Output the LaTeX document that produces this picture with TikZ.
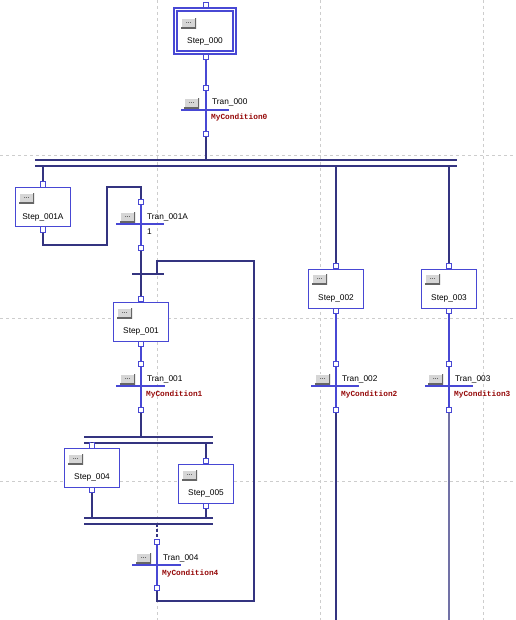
\documentclass[tikz,border=0pt]{standalone}
\usepackage{fontspec}
\setmainfont{Liberation Sans}
\newfontfamily\condfont{Liberation Mono}
\definecolor{sfcblue}{RGB}{72,72,212}
\definecolor{sfcnavy}{RGB}{52,52,128}
\definecolor{condred}{RGB}{150,10,10}
\definecolor{gridgray}{RGB}{205,205,205}
\begin{document}
\begin{tikzpicture}[x=1pt,y=-1pt,
 stepbox/.style={draw=sfcblue, line width=0.9pt, fill=white, minimum width=55pt, minimum height=39pt, inner sep=0pt},
 sq/.style={draw=sfcblue, fill=white, line width=0.9pt, minimum size=5.5pt, inner sep=0pt},
 btn/.style={fill=gray!32, minimum width=15pt, minimum height=10pt, inner sep=0pt,
   font=\fontsize{7}{7}\selectfont, anchor=north west,
   path picture={\draw[white, line width=1.4pt] (path picture bounding box.south west) -- (path picture bounding box.north west) -- (path picture bounding box.north east);
                 \draw[gray!80!black, line width=1.6pt] (path picture bounding box.south west) -- (path picture bounding box.south east) -- (path picture bounding box.north east);}},
 lbl/.style={font=\fontsize{8.3}{9}\selectfont, inner sep=0pt},
 cond/.style={font=\condfont\bfseries\fontsize{7.8}{9}\selectfont, text=condred, inner sep=0pt, anchor=west},
 bline/.style={draw=sfcblue, line width=1.1pt},
 nline/.style={draw=sfcnavy, line width=1.1pt},
 tbar/.style={draw=sfcblue, line width=1.3pt},
 gridline/.style={draw=gridgray, dashed, line width=0.8pt}]
\fill[white] (0,0) rectangle (515,620);
\useasboundingbox (0,0) rectangle (515,620);
% grid
\foreach \gx in {157,320,483} \draw[gridline] (\gx,0) -- (\gx,620);
\foreach \gy in {155,318,481} \draw[gridline] (0,\gy) -- (515,\gy);

% ---------- Step_000 ----------
\node[draw=sfcblue, line width=1.2pt, fill=white, minimum width=62pt, minimum height=46pt, inner sep=0pt] (s0) at (205,31) {};
\node[draw=sfcblue, line width=1.2pt, minimum width=56pt, minimum height=40pt, inner sep=0pt] (s0in) at (205,31) {};
\node[btn] (s0btn) at (181,18) {...};
\node[lbl] (s0lbl) at (205,41) {Step\_000};
\node[sq] (s0t) at (206,5) {};
\node[sq] (s0b) at (206,57) {};

% ---------- Tran_000 ----------
\coordinate (t0l) at (181,110); \coordinate (t0r) at (229,110);
\node[sq] (t0t) at (206,88) {};
\node[sq] (t0b) at (206,134) {};
\draw[bline] (s0b) -- (t0t);
\draw[bline] (t0t) -- (t0b);
\draw[tbar] (t0l) -- (t0r);
\node[btn] (t0btn) at (184,98) {...};
\node[lbl, anchor=west] (t0lbl) at (212,102) {Tran\_000};
\node[cond] (t0c) at (211,117.5) {MyCondition0};

% ---------- divergence bar 1 ----------
\coordinate (d1a) at (35,160); \coordinate (d1b) at (457,160);
\coordinate (d1c) at (35,166); \coordinate (d1d) at (457,166);
\coordinate (d1in) at (206,160);
\coordinate (d1o1) at (43,166); \coordinate (d1o2) at (336,166); \coordinate (d1o3) at (449,166);
\draw[nline] (t0b) -- (d1in);
\draw[nline] (d1a) -- (d1b);
\draw[nline] (d1c) -- (d1d);

% ---------- Step_001A ----------
\node[stepbox] (s1a) at (43,207) {};
\node[btn] (s1abtn) at (19,193) {...};
\node[lbl] (s1albl) at (43,217) {Step\_001A};
\node[sq] (s1at) at (43,184.5) {};
\node[sq] (s1ab) at (43,229.5) {};
\draw[nline] (d1o1) -- (s1at);

% ---------- Tran_001A ----------
\node[sq] (t1at) at (141,202) {};
\node[sq] (t1ab) at (141,248) {};
\coordinate (t1al) at (116,224); \coordinate (t1ar) at (164,224);
\coordinate (l1a) at (43,245); \coordinate (l1b) at (107,245);
\coordinate (l1c) at (107,187); \coordinate (l1d) at (141,187);
\draw[nline] (s1ab) -- (l1a) -- (l1b) -- (l1c) -- (l1d) -- (t1at);
\draw[bline] (t1at) -- (t1ab);
\draw[tbar] (t1al) -- (t1ar);
\node[btn] (t1abtn) at (120,212) {...};
\node[lbl, anchor=west] (t1albl) at (147,217) {Tran\_001A};
\node[lbl, anchor=west] (t1ac) at (147,232) {1};

% ---------- selection convergence ----------
\coordinate (c1l) at (132,274); \coordinate (c1r) at (164,274); \coordinate (c1j) at (157,274);
\coordinate (l2a) at (157,261); \coordinate (l2b) at (254,261);
\coordinate (l2c) at (254,601); \coordinate (l2d) at (157,601);
\draw[nline] (c1l) -- (c1r);

% ---------- Step_001 ----------
\node[stepbox] (s1) at (141,321.5) {};
\node[btn] (s1btn) at (117,308) {...};
\node[lbl] (s1lbl) at (141,331.5) {Step\_001};
\node[sq] (s1t) at (141,299) {};
\node[sq] (s1b) at (141,344) {};
\draw[nline] (t1ab) -- (s1t);

% ---------- Tran_001 ----------
\node[sq] (t1t) at (141,364) {};
\node[sq] (t1b) at (141,410) {};
\coordinate (t1l) at (116,386); \coordinate (t1r) at (165,386);
\draw[bline] (s1b) -- (t1t);
\draw[bline] (t1t) -- (t1b);
\draw[tbar] (t1l) -- (t1r);
\node[btn] (t1btn) at (120,374) {...};
\node[lbl, anchor=west] (t1lbl) at (147,379) {Tran\_001};
\node[cond] (t1c) at (146,394.5) {MyCondition1};

% ---------- divergence bar 2 ----------
\coordinate (d2a) at (84,437); \coordinate (d2b) at (213,437);
\coordinate (d2c) at (84,443); \coordinate (d2d) at (213,443);
\coordinate (d2in) at (141,437);
\coordinate (d2o1) at (92,443); \coordinate (d2o2) at (206,443);
\draw[nline] (t1b) -- (d2in);
\draw[nline] (d2a) -- (d2b);
\draw[nline] (d2c) -- (d2d);

% ---------- Step_004 ----------
\node[stepbox] (s4) at (92,467.5) {};
\node[btn] (s4btn) at (68,454) {...};
\node[lbl] (s4lbl) at (92,477.5) {Step\_004};
\node[sq] (s4t) at (92,445.5) {};
\node[sq] (s4b) at (92,490) {};
\draw[nline] (d2o1) -- (s4t);

% ---------- Step_005 ----------
\node[stepbox] (s5) at (206,483.5) {};
\node[btn] (s5btn) at (182,470) {...};
\node[lbl] (s5lbl) at (206,493.5) {Step\_005};
\node[sq] (s5t) at (206,461) {};
\node[sq] (s5b) at (206,506) {};
\draw[nline] (d2o2) -- (s5t);

% ---------- convergence bar 3 ----------
\coordinate (c3a) at (84,518); \coordinate (c3b) at (213,518);
\coordinate (c3c) at (84,524); \coordinate (c3d) at (213,524);
\coordinate (c3i1) at (92,518); \coordinate (c3i2) at (206,518);
\coordinate (c3o) at (157,524);
\draw[nline] (s4b) -- (c3i1);
\draw[nline] (s5b) -- (c3i2);
\draw[nline] (c3a) -- (c3b);
\draw[nline] (c3c) -- (c3d);

% ---------- Tran_004 ----------
\node[sq] (t4t) at (157,542) {};
\node[sq] (t4b) at (157,588) {};
\coordinate (t4l) at (132,565); \coordinate (t4r) at (181,565);
\draw[nline, dash pattern=on 3pt off 2pt] (c3o) -- (t4t);
\draw[bline] (t4t) -- (t4b);
\draw[tbar] (t4l) -- (t4r);
\node[btn] (t4btn) at (136,553) {...};
\node[lbl, anchor=west] (t4lbl) at (163,558) {Tran\_004};
\node[cond] (t4c) at (162,573.5) {MyCondition4};
\draw[nline] (t4b) -- (l2d) -- (l2c) -- (l2b) -- (l2a) -- (c1j);

% ---------- Step_002 ----------
\node[stepbox] (s2) at (336,288.5) {};
\node[btn] (s2btn) at (312,274) {...};
\node[lbl] (s2lbl) at (336,298.5) {Step\_002};
\node[sq] (s2t) at (336,266) {};
\node[sq] (s2b) at (336,311) {};
\draw[nline] (d1o2) -- (s2t);

% ---------- Tran_002 ----------
\node[sq] (t2t) at (336,364) {};
\node[sq] (t2b) at (336,410) {};
\coordinate (t2l) at (311,386); \coordinate (t2r) at (359,386);
\coordinate (e2) at (336,620);
\draw[bline] (s2b) -- (t2t);
\draw[bline] (t2t) -- (t2b);
\draw[tbar] (t2l) -- (t2r);
\draw[nline] (t2b) -- (e2);
\node[btn] (t2btn) at (315,374) {...};
\node[lbl, anchor=west] (t2lbl) at (342,379) {Tran\_002};
\node[cond] (t2c) at (341,394.5) {MyCondition2};

% ---------- Step_003 ----------
\node[stepbox] (s3) at (449,288.5) {};
\node[btn] (s3btn) at (425,274) {...};
\node[lbl] (s3lbl) at (449,298.5) {Step\_003};
\node[sq] (s3t) at (449,266) {};
\node[sq] (s3b) at (449,311) {};
\draw[nline] (d1o3) -- (s3t);

% ---------- Tran_003 ----------
\node[sq] (t3t) at (449,364) {};
\node[sq] (t3b) at (449,410) {};
\coordinate (t3l) at (425,386); \coordinate (t3r) at (473,386);
\coordinate (e3) at (449,620);
\draw[bline] (s3b) -- (t3t);
\draw[bline] (t3t) -- (t3b);
\draw[tbar] (t3l) -- (t3r);
\draw[draw=sfcnavy!70, line width=1.1pt] (t3b) -- (e3);
\node[btn] (t3btn) at (428,374) {...};
\node[lbl, anchor=west] (t3lbl) at (455,379) {Tran\_003};
\node[cond] (t3c) at (454,394.5) {MyCondition3};
\end{tikzpicture}
\end{document}
